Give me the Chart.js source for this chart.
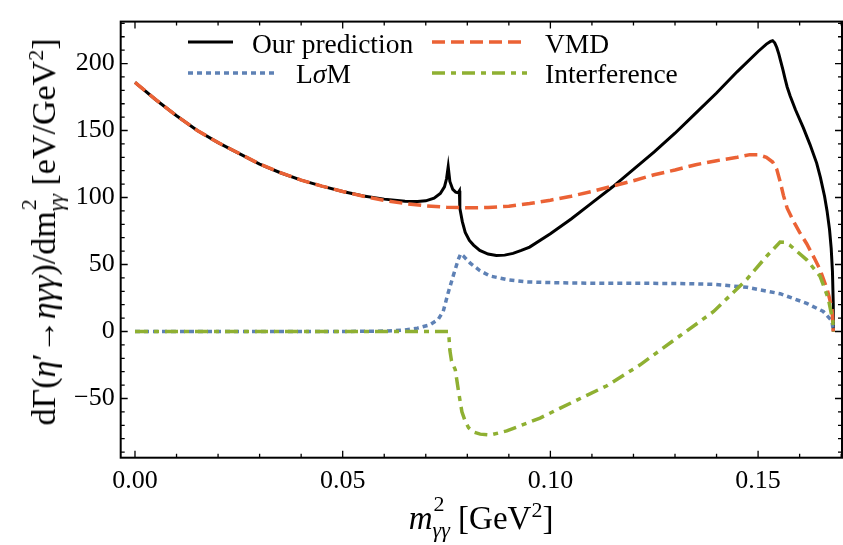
<!DOCTYPE html>
<html><head><meta charset="utf-8">
<script src="https://cdn.jsdelivr.net/npm/chart.js@4/dist/chart.umd.min.js"></script>
<style>
html,body{margin:0;padding:0;background:#fff;}
#wrap{position:relative;width:843px;height:545px;overflow:hidden;font-family:"Liberation Serif","Times New Roman",serif;color:#000;}
#c{position:absolute;left:0;top:0;}
.t{position:absolute;font-size:27.5px;line-height:27.5px;white-space:nowrap;}
.ti{position:absolute;font-size:33px;line-height:33px;white-space:nowrap;}
.it{font-style:italic;}
.ss{display:inline-block;position:relative;}
.ss .sb{font-size:22px;position:relative;top:8px;font-style:italic;}
.ss .sp{font-size:22px;position:absolute;left:1px;top:-15px;}
sup{font-size:22px;line-height:0;}
.yt{left:46px;top:232px;font-size:34px;line-height:34px;transform:translate(-50%,-50%) rotate(-90deg);}
.xt{left:481px;top:502px;transform:translateX(-50%);}
#leg{position:absolute;left:0;top:0;}
</style></head>
<body><div id="wrap">
<canvas id="c" width="843" height="545"></canvas>
<svg id="leg" width="843" height="120">
  <line x1="188" y1="42" x2="233" y2="42" stroke="#000" stroke-width="3"/>
  <line x1="188" y1="73" x2="275" y2="73" stroke="#5E81B5" stroke-width="3.5" stroke-dasharray="5 4"/>
  <line x1="432" y1="42" x2="527" y2="42" stroke="#EB6235" stroke-width="3.5" stroke-dasharray="13 6"/>
  <line x1="432" y1="73" x2="527" y2="73" stroke="#8FB032" stroke-width="3.5" stroke-dasharray="13 6 5 6"/>
</svg>
<div class="t" style="left:252px;top:30px;">Our prediction</div>
<div class="t" style="left:296px;top:60px;">L<span class="it">σ</span>M</div>
<div class="t" style="left:545px;top:30px;">VMD</div>
<div class="t" style="left:545px;top:60px;">Interference</div>
<div class="ti xt"><span class="it">m</span><span class="ss"><span class="sp">2</span><span class="sb">γγ</span></span> [GeV<sup>2</sup>]</div>
<div class="ti yt">dΓ(<span class="it">η</span>′→<span class="it">η</span><span class="it">γγ</span>)/dm<span class="ss"><span class="sp">2</span><span class="sb">γγ</span></span> [eV/GeV<sup>2</sup>]</div>
</div>
<script>
// Our prediction
const predX=[0,0.005,0.01,0.015,0.02,0.025,0.03,0.035,0.04,0.045,0.05,0.055,0.06,0.065,0.068,0.07,0.072,0.0735,0.0745,0.075,0.0754,0.0758,0.0765,0.0772,0.0778,0.0781,0.0782,0.0788,0.0795,0.0805,0.0815,0.083,0.085,0.087,0.089,0.091,0.093,0.095,0.1,0.105,0.11,0.115,0.12,0.125,0.13,0.135,0.14,0.145,0.15,0.152,0.153,0.1535,0.154,0.1545,0.155,0.1555,0.156,0.1565,0.157,0.1577,0.159,0.1609,0.1625,0.1641,0.165,0.166,0.1666,0.1672,0.1676,0.1679,0.1681,0.1681];
const predY=[186,173,161,150,141,133,125,118.5,113,108.5,104.5,101.2,98.8,97.3,97,97.5,99.5,103,108,114,123,112,106,104,103.5,105,92,82,74,68,64.5,60.5,57.8,56.8,57,58.3,60.5,63,73,84,96,108,121,134,148,163,178,194,209,214.5,216.5,217,215.5,212,207,201,195,188.5,182.5,176,165.5,152,139.5,125.7,115,101,90,76,62,45,20,0];
// VMD
const vmdX=[0,0.005,0.01,0.015,0.02,0.025,0.03,0.035,0.04,0.045,0.05,0.055,0.06,0.065,0.07,0.075,0.08,0.085,0.09,0.095,0.1,0.105,0.11,0.115,0.12,0.125,0.13,0.135,0.14,0.145,0.148,0.15,0.152,0.1535,0.1545,0.1553,0.1561,0.157,0.1585,0.16,0.1617,0.1635,0.1649,0.1666,0.1678,0.1681];
const vmdY=[186,173,161,150,141,133,125,118.5,113,108.5,104.5,101,97.8,95.5,93.8,92.8,92.3,92.5,93.5,95.5,98,101,104.5,108.5,112.5,117,120.5,124.5,127.5,130,132,132,130,126.5,121,112,101.6,92,82.4,74,65.5,55,46.3,31.8,17.3,0];
// L sigma M
const lsmX=[0,0.02,0.04,0.055,0.06,0.062,0.065,0.068,0.071,0.073,0.0742,0.0754,0.0766,0.0778,0.0784,0.079,0.0807,0.083,0.0855,0.09,0.0943,0.1,0.11,0.12,0.1312,0.1393,0.1473,0.1553,0.1617,0.1657,0.1678,0.1681];
const lsmY=[0,0,0,0.1,0.3,0.5,1.2,2.5,5,9,15,29,41.4,53.5,58,56.5,51,45.5,41.4,38.5,37,36.5,36,36,35.8,35.2,33,28.2,21,14.9,7.7,0];
// Interference
const intX=[0,0.02,0.04,0.06,0.07,0.0754,0.0756,0.0758,0.0762,0.0771,0.0779,0.0787,0.0795,0.0803,0.0815,0.0831,0.0855,0.0895,0.0975,0.1055,0.1136,0.1216,0.1312,0.1393,0.1473,0.152,0.1553,0.1565,0.1577,0.1617,0.1649,0.1669,0.168,0.1681];
const intY=[0,0,0,0,0,0,-5,-14,-22,-28.5,-45,-60,-67,-71.8,-75,-76.6,-77.3,-74.2,-64.6,-52.5,-40.5,-24.9,-3.2,14.9,39,56,66.7,66.5,64.3,53.5,41.4,24.6,7.7,0];

const xTickValues=[0,0.05,0.1,0.15];
const yTickValues=[-50,0,50,100,150,200];
const xMinorStep=0.01, yMinorStep=10;

function pts(xs,ys){return xs.map((x,i)=>({x:x,y:ys[i]}));}

const framePlugin={
  id:'frame',
  afterDatasetsDraw(chart){
    const ctx=chart.ctx, a=chart.chartArea, sx=chart.scales.x, sy=chart.scales.y;
    ctx.save();
    ctx.strokeStyle='#000';
    ctx.lineWidth=1.3;
    const isMajor=(v,list)=>list.some(t=>Math.abs(t-v)<1e-9);
    for(let i=Math.ceil(sx.min/xMinorStep);i*xMinorStep<=sx.max;i++){
      const v=+(i*xMinorStep).toFixed(6), p=sx.getPixelForValue(v), L=isMajor(v,xTickValues)?7:4;
      ctx.beginPath();ctx.moveTo(p,a.bottom);ctx.lineTo(p,a.bottom-L);ctx.moveTo(p,a.top);ctx.lineTo(p,a.top+L);ctx.stroke();
    }
    for(let i=Math.ceil(sy.min/yMinorStep);i*yMinorStep<=sy.max;i++){
      const v=i*yMinorStep, p=sy.getPixelForValue(v), L=isMajor(v,yTickValues)?7:4;
      ctx.beginPath();ctx.moveTo(a.left,p);ctx.lineTo(a.left+L,p);ctx.moveTo(a.right,p);ctx.lineTo(a.right-L,p);ctx.stroke();
    }
    ctx.lineWidth=2;
    ctx.strokeRect(a.left,a.top,a.right-a.left,a.bottom-a.top);
    ctx.restore();
  }
};

const font={family:'Liberation Serif',size:26};
new Chart(document.getElementById('c'),{
  type:'scatter',
  data:{datasets:[
    {label:'Interference',data:pts(intX,intY),borderColor:'#8FB032',borderWidth:3.5,borderDash:[13,6,5,6],showLine:true,pointRadius:0,tension:0},
    {label:'VMD',data:pts(vmdX,vmdY),borderColor:'#EB6235',borderWidth:3.5,borderDash:[13,6],showLine:true,pointRadius:0,tension:0},
    {label:'LσM',data:pts(lsmX,lsmY),borderColor:'#5E81B5',borderWidth:3.5,borderDash:[5,4],showLine:true,pointRadius:0,tension:0},
    {label:'Our prediction',data:pts(predX,predY),borderColor:'#000',borderWidth:3,showLine:true,pointRadius:0,tension:0}
  ]},
  options:{
    responsive:false,animation:false,
    layout:{padding:{top:7.3,right:1,left:0,bottom:0}},
    plugins:{legend:{display:false},tooltip:{enabled:false}},
    scales:{
      x:{type:'linear',min:-0.00344,max:0.1702,
        afterBuildTicks:s=>{s.ticks=xTickValues.map(v=>({value:v}));},
        afterFit:s=>{s.height=87.3;},
        grid:{display:false,drawTicks:false},border:{display:false},
        ticks:{font:font,color:'#000',padding:8,maxRotation:0,autoSkip:false,callback:v=>v.toFixed(2)}},
      y:{type:'linear',min:-94.2,max:231.3,
        afterBuildTicks:s=>{s.ticks=yTickValues.map(v=>({value:v}));},
        afterFit:s=>{s.width=120.7;},
        grid:{display:false,drawTicks:false},border:{display:false},
        ticks:{font:font,color:'#000',padding:6,autoSkip:false,callback:v=>v<0?'\u2212'+Math.abs(v):String(v)}}
    }
  },
  plugins:[framePlugin]
});
</script>
</body></html>
